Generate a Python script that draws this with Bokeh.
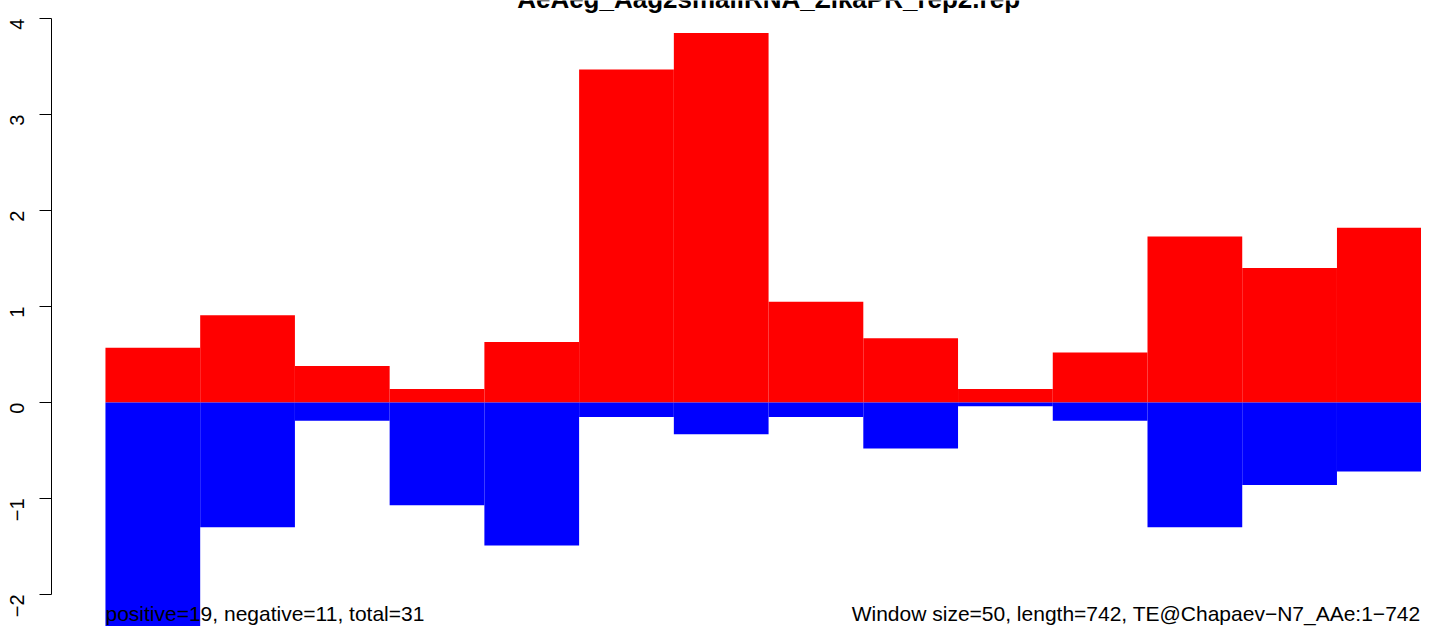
import math
from bokeh.plotting import figure
from bokeh.models import Range1d, FixedTicker, Label, ColumnDataSource
from bokeh.embed import file_html
from bokeh.resources import INLINE

# ---- data ----
windows = list(range(1, 15))
positive = [0.57, 0.91, 0.38, 0.14, 0.63, 3.47, 3.85, 1.05, 0.67, 0.14, 0.52, 1.73, 1.40, 1.82]
negative = [-2.45, -1.30, -0.19, -1.07, -1.49, -0.15, -0.33, -0.15, -0.48, -0.04, -0.19, -1.30, -0.86, -0.72]
y_ticks = [-2, -1, 0, 1, 2, 3, 4]
title_text = "AeAeg_Aag2smallRNA_ZikaPR_rep2.rep"
left_note = "positive=19, negative=11, total=31"
right_note = "Window size=50, length=742, TE@Chapaev\u2212N7_AAe:1\u2212742"

left = [w - 1 for w in windows]
right = [w for w in windows]
src = ColumnDataSource(dict(left=left, right=right, pos=positive, neg=negative,
                            zero=[0] * len(windows)))

X0, X1 = -0.5696, 13.8924
p = figure(width=1421, height=626, output_backend="svg", toolbar_location=None,
           x_range=Range1d(X0, X1), y_range=Range1d(-2.3333, 4.1875),
           x_axis_location=None, min_border_left=50, min_border_right=0,
           min_border_top=0, min_border_bottom=0)
p.outline_line_color = None
p.grid.visible = False
p.background_fill_color = "white"
p.border_fill_color = "white"

p.quad(left="left", right="right", bottom="zero", top="pos", source=src,
       fill_color="#FF0000", line_color=None)
p.quad(left="left", right="right", bottom="neg", top="zero", source=src,
       fill_color="#0000FF", line_color=None)

ya = p.yaxis[0]
ya.ticker = FixedTicker(ticks=y_ticks)
ya.bounds = (-2, 4)
ya.major_label_overrides = {t: (str(t).replace("-", "\u2212")) for t in y_ticks}
ya.major_label_orientation = math.pi / 2
ya.major_label_text_font = "Liberation Sans"
ya.major_label_text_font_size = "20px"
ya.major_label_text_color = "black"
ya.major_label_standoff = 22
ya.major_tick_out = 12
ya.major_tick_in = 0
ya.minor_tick_out = 0
ya.minor_tick_in = 0
ya.axis_line_color = "black"
ya.major_tick_line_color = "black"
ya.axis_line_width = 1

p.add_layout(Label(x=7, y=4.052, text=title_text, text_align="center",
                   text_baseline="bottom", text_font="Liberation Sans",
                   text_font_style="bold", text_font_size="26px", text_color="black"))
p.add_layout(Label(x=0, y=-2.318, text=left_note, text_align="left",
                   text_baseline="bottom", text_font="Liberation Sans",
                   text_font_size="21px", text_color="black"))
p.add_layout(Label(x=X1 - 0.01, y=-2.318, text=right_note, text_align="right",
                   text_baseline="bottom", text_font="Liberation Sans",
                   text_font_size="21px", text_color="black"))

open("out.html", "w").write(file_html(p, INLINE))
